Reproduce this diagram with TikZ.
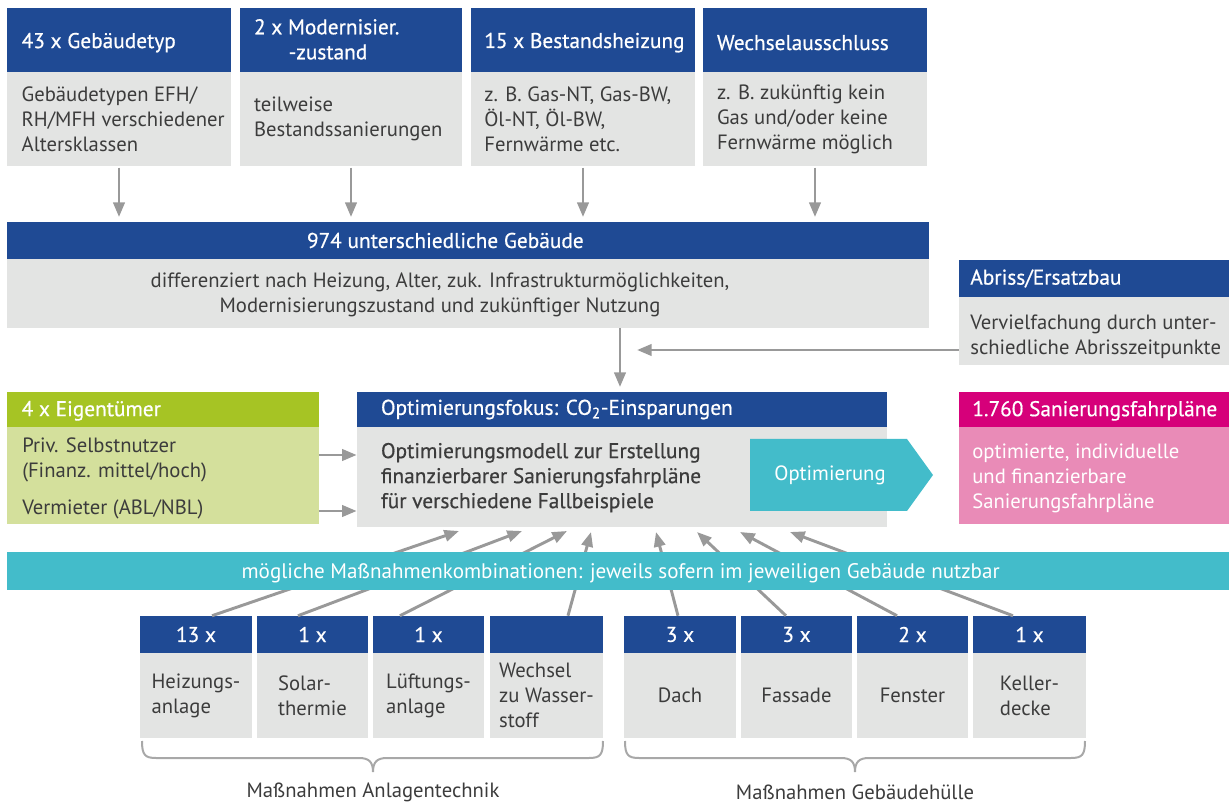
\documentclass[tikz,border=0pt]{standalone}
\usepackage{fontspec}
\setmainfont{PT Sans}
\newfontfamily\semib[FakeBold=0.6]{PT Sans}
\usetikzlibrary{arrows.meta,fit}
\definecolor{dblue}{HTML}{1F4A94}
\definecolor{lgray}{HTML}{E3E4E3}
\definecolor{tgray}{HTML}{3C3C3C}
\definecolor{agray}{HTML}{999999}
\definecolor{hgreen}{HTML}{A6C424}
\definecolor{pgreen}{HTML}{D4E09C}
\definecolor{mgnta}{HTML}{D6007A}
\definecolor{pnk}{HTML}{E98BB7}
\definecolor{tl}{HTML}{43BCCA}
\begin{document}
\begin{tikzpicture}[x=0.75pt,y=-0.75pt,
  box/.style={inner sep=0pt, fill=#1, draw=none},
  ht/.style={text=white, font=\semib\fontsize{16}{18.75}\selectfont, inner sep=0pt, align=left},
  bt/.style={text=tgray, font=\fontsize{15.5}{18.75}\selectfont, inner sep=0pt, align=left},
  wt/.style={text=white, font=\fontsize{15.5}{18.75}\selectfont, inner sep=0pt, align=left},
  arr/.style={draw=agray, line width=2.2pt, -{Triangle[length=11pt,width=8.5pt]}},
  brace/.style={draw=agray!85, line width=1.5pt},
]
\useasboundingbox (0,0) rectangle (1229,805);

% ---------- top boxes
\node[box=dblue, fit={(7,8)(231,72)}] (h1) {};
\node[box=lgray, fit={(7,72)(231,166)}] (b1) {};
\node[box=dblue, fit={(240,8)(462,72)}] (h2) {};
\node[box=lgray, fit={(240,72)(462,166)}] (b2) {};
\node[box=dblue, fit={(471,8)(695,72)}] (h3) {};
\node[box=lgray, fit={(471,72)(695,166)}] (b3) {};
\node[box=dblue, fit={(703,8)(927,72)}] (h4) {};
\node[box=lgray, fit={(703,72)(927,166)}] (b4) {};

\node[ht, anchor=west] (h1t) at ([xshift=11pt,yshift=-2pt]h1.west) {43 x Gebäudetyp};
\node[ht, anchor=west] (h2t) at ([xshift=10.5pt,yshift=0.5pt]h2.west) {2 x Modernisier.\\\hspace*{26pt}-zustand};
\node[ht, anchor=west] (h3t) at ([xshift=10pt,yshift=-2pt]h3.west) {15 x Bestandsheizung};
\node[ht, anchor=west] (h4t) at ([xshift=10.5pt,yshift=-2pt]h4.west) {Wechselausschluss};

\node[bt, anchor=west] (b1t) at ([xshift=11pt]b1.west) {Gebäudetypen EFH/\\RH/MFH verschiedener\\Altersklassen};
\node[bt, anchor=west] (b2t) at ([xshift=10.5pt]b2.west) {teilweise\\Bestandssanierungen};
\node[bt, anchor=west] (b3t) at ([xshift=10pt]b3.west) {z. B. Gas-NT, Gas-BW,\\Öl-NT, Öl-BW,\\Fernwärme etc.};
\node[bt, anchor=west] (b4t) at ([xshift=10.5pt]b4.west) {z. B. zukünftig kein\\Gas und/oder keine\\Fernwärme möglich};

% ---------- 974 box
\node[box=dblue, fit={(7,222)(929,259)}] (gh) {};
\node[box=lgray, fit={(7,259)(929,328)}] (gb) {};
\node[ht, align=center] (ght) at ([xshift=-17pt]gh.center) {974 unterschiedliche Gebäude};
\node[bt, align=center] (gbt) at ([xshift=-21pt,yshift=-1pt]gb.center) {differenziert nach Heizung, Alter, zuk. Infrastrukturmöglichkeiten,\\Modernisierungszustand und zukünftiger Nutzung};

\foreach \i in {1,2,3,4}{
  \draw[arr, shorten <=1pt, shorten >=3.5pt] (b\i.south) -- (b\i.south |- gh.north);
}

% ---------- Abriss box
\node[box=dblue, fit={(959,260)(1229,297)}] (ah) {};
\node[box=lgray, fit={(959,297)(1229,365)}] (ab) {};
\node[ht, anchor=west] (aht) at ([xshift=8.5pt]ah.west) {Abriss/Ersatzbau};
\node[bt, anchor=west] (abt) at ([xshift=8.5pt,yshift=-4pt]ab.west) {Vervielfachung durch unter-\\schiedliche Abrisszeitpunkte};

% ---------- optimisation box
\node[box=dblue, fit={(357,392)(887,427)}] (oh) {};
\node[box=lgray, fit={(357,427)(887,527)}] (ob) {};
\node[ht, anchor=west] (oht) at ([xshift=18pt]oh.west) {Optimierungsfokus: CO\textsubscript{2}-Einsparungen};
\node[bt, font=\semib\fontsize{16}{18.75}\selectfont, anchor=west] (obt) at ([xshift=18pt,yshift=-0.5pt]ob.west) {Optimierungsmodell zur Erstellung\\finanzierbarer Sanierungsfahrpläne\\für verschiedene Fallbeispiele};
\fill[tl] (750,439) -- (907,439) -- (933,475) -- (907,511) -- (750,511) -- cycle;
\node[wt] (opt) at (830,475) {Optimierung};

\coordinate (v1) at (620,328);
\draw[arr, shorten >=3.5pt] (v1) -- (v1 |- oh.north);
\coordinate (a2) at (637,350);
\draw[arr] (ab.west |- a2) -- (a2);

% ---------- owners
\node[box=hgreen, fit={(7,392)(319,427)}] (eh) {};
\node[box=pgreen, fit={(7,427)(319,524)}] (eb) {};
\node[ht, anchor=west] (eht) at ([xshift=11pt,yshift=-1pt]eh.west) {4 x Eigentümer};
\node[bt, anchor=west] (ebt1) at (22,460) {Priv. Selbstnutzer\\(Finanz. mittel/hoch)};
\node[bt, anchor=west] (ebt2) at (22,509) {Vermieter (ABL/NBL)};
\coordinate (e1) at (0,455);
\coordinate (e2) at (0,511);
\draw[arr] (eb.east |- e1) -- (ob.west |- e1);
\draw[arr] (eb.east |- e2) -- (ob.west |- e2);

% ---------- results
\node[box=mgnta, fit={(959,392)(1229,427)}] (rh) {};
\node[box=pnk, fit={(959,427)(1229,524)}] (rb) {};
\node[ht, anchor=west] (rht) at ([xshift=10pt,yshift=-1pt]rh.west) {1.760 Sanierungsfahrpläne};
\node[wt, anchor=west] (rbt) at ([xshift=10pt,yshift=-2.5pt]rb.west) {optimierte, individuelle\\und finanzierbare\\Sanierungsfahrpläne};

% ---------- measures
\node[box=dblue, fit={(140,616)(252,653)}] (m1h) {};
\node[box=dblue, fit={(257,616)(368,653)}] (m2h) {};
\node[box=dblue, fit={(373,616)(484,653)}] (m3h) {};
\node[box=dblue, fit={(490,616)(603,653)}] (m4h) {};
\node[box=dblue, fit={(624,616)(736,653)}] (m5h) {};
\node[box=dblue, fit={(741,616)(852,653)}] (m6h) {};
\node[box=dblue, fit={(857,616)(968,653)}] (m7h) {};
\node[box=dblue, fit={(973,616)(1086,653)}] (m8h) {};
\foreach \i/\t in {1/13 x,2/1 x,3/1 x,5/3 x,6/3 x,7/2 x,8/1 x}{
  \node[ht] (m\i ht) at (m\i h.center) {\t};
}
\node[box=lgray, fit={(140,653)(252,738)}] (m1b) {};
\node[box=lgray, fit={(257,653)(368,738)}] (m2b) {};
\node[box=lgray, fit={(373,653)(484,738)}] (m3b) {};
\node[box=lgray, fit={(490,653)(603,738)}] (m4b) {};
\node[box=lgray, fit={(624,653)(736,738)}] (m5b) {};
\node[box=lgray, fit={(741,653)(852,738)}] (m6b) {};
\node[box=lgray, fit={(857,653)(968,738)}] (m7b) {};
\node[box=lgray, fit={(973,653)(1086,738)}] (m8b) {};
\node[bt] (m1t) at (m1b.center) {Heizungs-\\anlage};
\node[bt] (m2t) at (m2b.center) {Solar-\\thermie};
\node[bt] (m3t) at (m3b.center) {Lüftungs-\\anlage};
\node[bt] (m4t) at (m4b.center) {Wechsel\\zu Wasser-\\stoff};
\node[bt] (m5t) at (m5b.center) {Dach};
\node[bt] (m6t) at (m6b.center) {Fassade};
\node[bt] (m7t) at (m7b.center) {Fenster};
\node[bt] (m8t) at (m8b.center) {Keller-\\decke};

\coordinate (t1) at (459,531);
\coordinate (t2) at (522,531);
\coordinate (t3) at (567,531);
\coordinate (t4) at (591,532);
\coordinate (t5) at (656,532);
\coordinate (t6) at (697,532);
\coordinate (t7) at (740,532);
\coordinate (t8) at (790,532);
\draw[arr] ([xshift=12pt]m1h.north) -- (t1);
\draw[arr] ([xshift=-10.9pt]m2h.north) -- (t2);
\draw[arr] ([xshift=-21.4pt]m3h.north) -- (t3);
\draw[arr] ([xshift=16.1pt]m4h.north) -- (t4);
\draw[arr] ([xshift=-1.5pt]m5h.north) -- (t5);
\draw[arr] ([xshift=-7.9pt]m6h.north) -- (t6);
\draw[arr] ([xshift=-11.6pt]m7h.north) -- (t7);
\draw[arr] ([xshift=-12.4pt]m8h.north) -- (t8);

% ---------- band
\node[box=tl, fit={(7,552)(1229,590)}] (band) {};
\node[wt, font=\fontsize{15.8}{18.75}\selectfont] (bandt) at ([xshift=2pt,yshift=-1.5pt]band.center) {mögliche Maßnahmenkombinationen: jeweils sofern im jeweiligen Gebäude nutzbar};

% ---------- braces
\draw[brace] (142,741) .. controls (142,755) and (145,758) .. (156,758) -- (359,758) .. controls (369,758) and (373,762) .. (373,772) .. controls (373,762) and (377,758) .. (387,758) -- (589,758) .. controls (600,758) and (603,755) .. (603,741);
\draw[brace] (625,741) .. controls (625,755) and (628,758) .. (639,758) -- (841,758) .. controls (851,758) and (855,762) .. (855,772) .. controls (855,762) and (859,758) .. (869,758) -- (1071,758) .. controls (1082,758) and (1085,755) .. (1085,741);
\node[bt] (l1) at (373,792) {Maßnahmen Anlagentechnik};
\node[bt] (l2) at (855,792) {Maßnahmen Gebäudehülle};
\end{tikzpicture}
\end{document}
